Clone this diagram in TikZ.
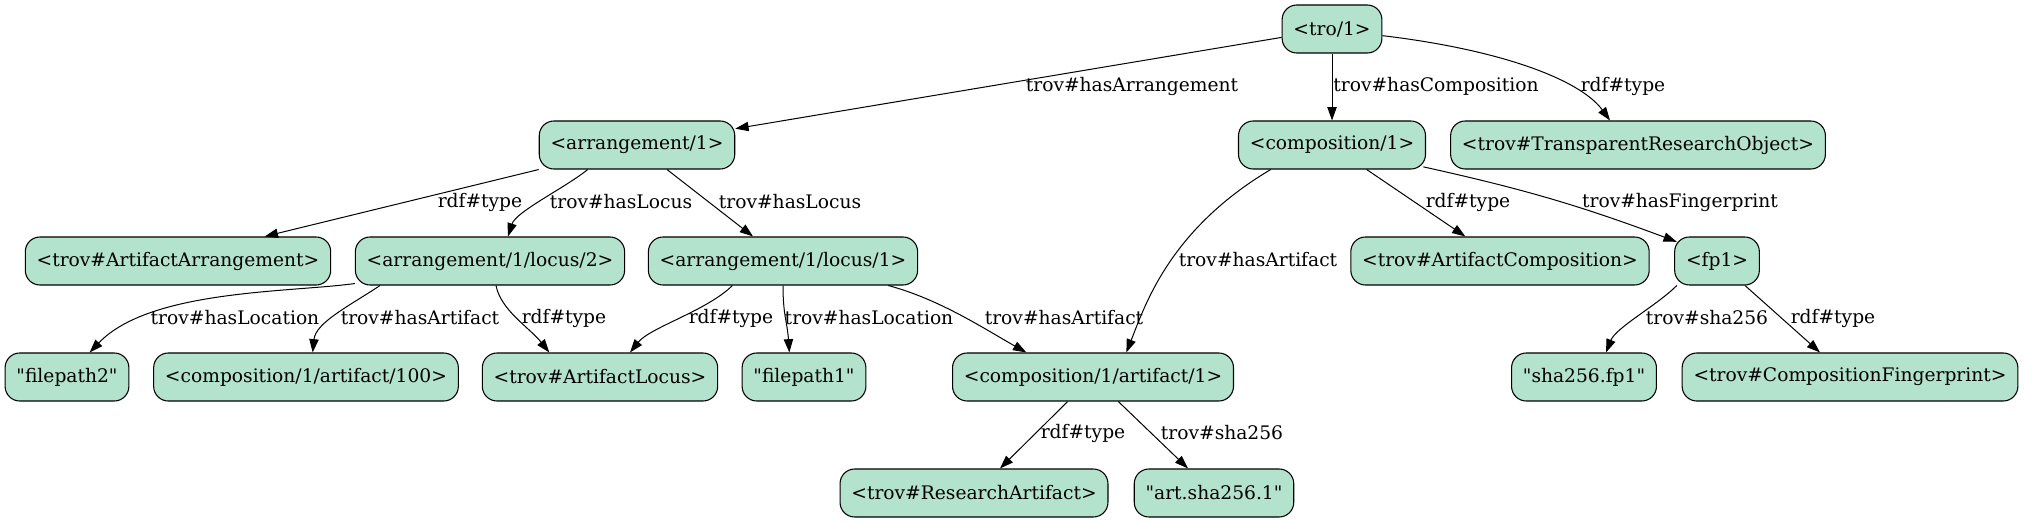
\documentclass[tikz,border=0pt]{standalone}
\usepackage{fontspec}
\setmainfont{DejaVu Serif}[Ligatures=TeXOff]
\usetikzlibrary{arrows.meta}
\definecolor{nodegreen}{HTML}{B3E2CD}
\newcommand{\qt}{\symbol{34}}
\tikzset{
  res/.style={draw, fill=nodegreen, rounded corners=11pt, minimum height=36pt,
    minimum width=54pt, inner xsep=8.5pt, line width=0.8pt,
    font=\fontsize{14}{17}\selectfont},
  rel/.style={-{Triangle[length=10pt,width=7pt]}, line width=0.75pt},
  lbl/.style={font=\fontsize{14}{17}\selectfont, inner sep=0pt}
}
\begin{document}
\begin{tikzpicture}[x=0.75pt, y=-0.75pt]
                \useasboundingbox (0,0) rectangle (2026,523) ;
                % resources
                \node[res] (tro) at (1332,29) {<tro/1>} ;
                \node[res] (arr) at (637,145) {<arrangement/1>} ;
                \node[res] (comp) at (1332,145) {<composition/1>} ;
                \node[res] (tobj) at (1638,145) {<trov\#TransparentResearchObject>} ;
                \node[res] (aarr) at (178,261) {<trov\#ArtifactArrangement>} ;
                \node[res] (loc2) at (490,261) {<arrangement/1/locus/2>} ;
                \node[res] (loc1) at (783,261) {<arrangement/1/locus/1>} ;
                \node[res] (acomp) at (1500,261) {<trov\#ArtifactComposition>} ;
                \node[res] (fp) at (1717,261) {<fp1>} ;
                \node[res] (path2) at (67,377) {\qt filepath2\qt} ;
                \node[res] (art100) at (306,377) {<composition/1/artifact/100>} ;
                \node[res] (aloc) at (600,377) {<trov\#ArtifactLocus>} ;
                \node[res] (path1) at (804,377) {\qt filepath1\qt} ;
                \node[res] (art1) at (1093,377) {<composition/1/artifact/1>} ;
                \node[res] (fpsha) at (1584,377) {\qt sha256.fp1\qt} ;
                \node[res] (cfp) at (1850,377) {<trov\#CompositionFingerprint>} ;
                \node[res] (rart) at (974,493) {<trov\#ResearchArtifact>} ;
                \node[res] (artsha) at (1214,493) {\qt art.sha256.1\qt} ;
                % properties
                \draw[rel] (tro) -- (arr)
                    node[lbl] at (1132,86) {trov\#hasArrangement} ;
                \draw[rel] (tro) -- (comp)
                    node[lbl] at (1436,86) {trov\#hasComposition} ;
                \draw[rel] ([yshift=-5pt]tro.east) .. controls +(118,14) and +(-30,-41) .. ([xshift=-21pt]tobj.north)
                    node[lbl] at (1623,86) {rdf\#type} ;
                \draw[rel] (arr.south west) -- ([xshift=65pt]aarr.north)
                    node[lbl] at (480,202) {rdf\#type} ;
                \draw[rel] ([xshift=-37pt]arr.south) .. controls +(-22,18) and +(8,-25) .. ([xshift=13.5pt]loc2.north)
                    node[lbl] at (621,202) {trov\#hasLocus} ;
                \draw[rel] ([xshift=22.5pt]arr.south) -- ([xshift=-22.5pt]loc1.north)
                    node[lbl] at (790,202) {trov\#hasLocus} ;
                \draw[rel] ([xshift=-46pt]comp.south) .. controls +(-101,60) and +(19,-48) .. ([xshift=25pt]art1.north)
                    node[lbl] at (1258,260) {trov\#hasArtifact} ;
                \draw[rel] ([xshift=26pt]comp.south) -- ([xshift=-26pt]acomp.north)
                    node[lbl] at (1468,202) {rdf\#type} ;
                \draw[rel] ([xshift=-2pt,yshift=2pt]comp.south east) to[bend left=4] ([xshift=2pt,yshift=-4pt]fp.north west)
                    node[lbl] at (1680,202) {trov\#hasFingerprint} ;
                \draw[rel] ([yshift=1.5pt]loc2.south west) .. controls +(-65,9) and +(60,-63) .. ([xshift=17pt]path2.north)
                    node[lbl] at (235,318) {trov\#hasLocation} ;
                \draw[rel] ([xshift=-82.5pt]loc2.south) .. controls +(-30,20) and +(3,-30) .. ([xshift=5pt]art100.north)
                    node[lbl] at (420,318) {trov\#hasArtifact} ;
                \draw[rel] ([xshift=4.5pt]loc2.south) .. controls +(5,25) and +(-20,-25) .. ([xshift=-38pt]aloc.north)
                    node[lbl] at (564,318) {rdf\#type} ;
                \draw[rel] ([xshift=-38pt]loc1.south) .. controls +(-25,25) and +(20,-25) .. ([xshift=22.5pt]aloc.north)
                    node[lbl] at (731,318) {rdf\#type} ;
                \draw[rel] (loc1.south) .. controls +(0,30) and +(-2,-30) .. ([xshift=-11pt]path1.north)
                    node[lbl] at (869,318) {trov\#hasLocation} ;
                \draw[rel] ([xshift=79pt]loc1.south) .. controls +(52,14) and +(-41,-23) .. ([xshift=-50pt]art1.north)
                    node[lbl] at (1064,318) {trov\#hasArtifact} ;
                \draw[rel] ([xshift=2pt]fp.south west) .. controls +(-20,20) and +(10,-25) .. ([xshift=16.5pt]fpsha.north)
                    node[lbl] at (1707,318) {trov\#sha256} ;
                \draw[rel] ([xshift=21pt]fp.south) -- ([xshift=-22.5pt]cfp.north)
                    node[lbl] at (1833,318) {rdf\#type} ;
                \draw[rel] ([xshift=-19pt]art1.south) -- ([xshift=19.5pt]rart.north)
                    node[lbl] at (1083,433) {rdf\#type} ;
                \draw[rel] ([xshift=19pt]art1.south) -- ([xshift=-19.5pt]artsha.north)
                    node[lbl] at (1222,433) {trov\#sha256} ;
\end{tikzpicture}
\end{document}
